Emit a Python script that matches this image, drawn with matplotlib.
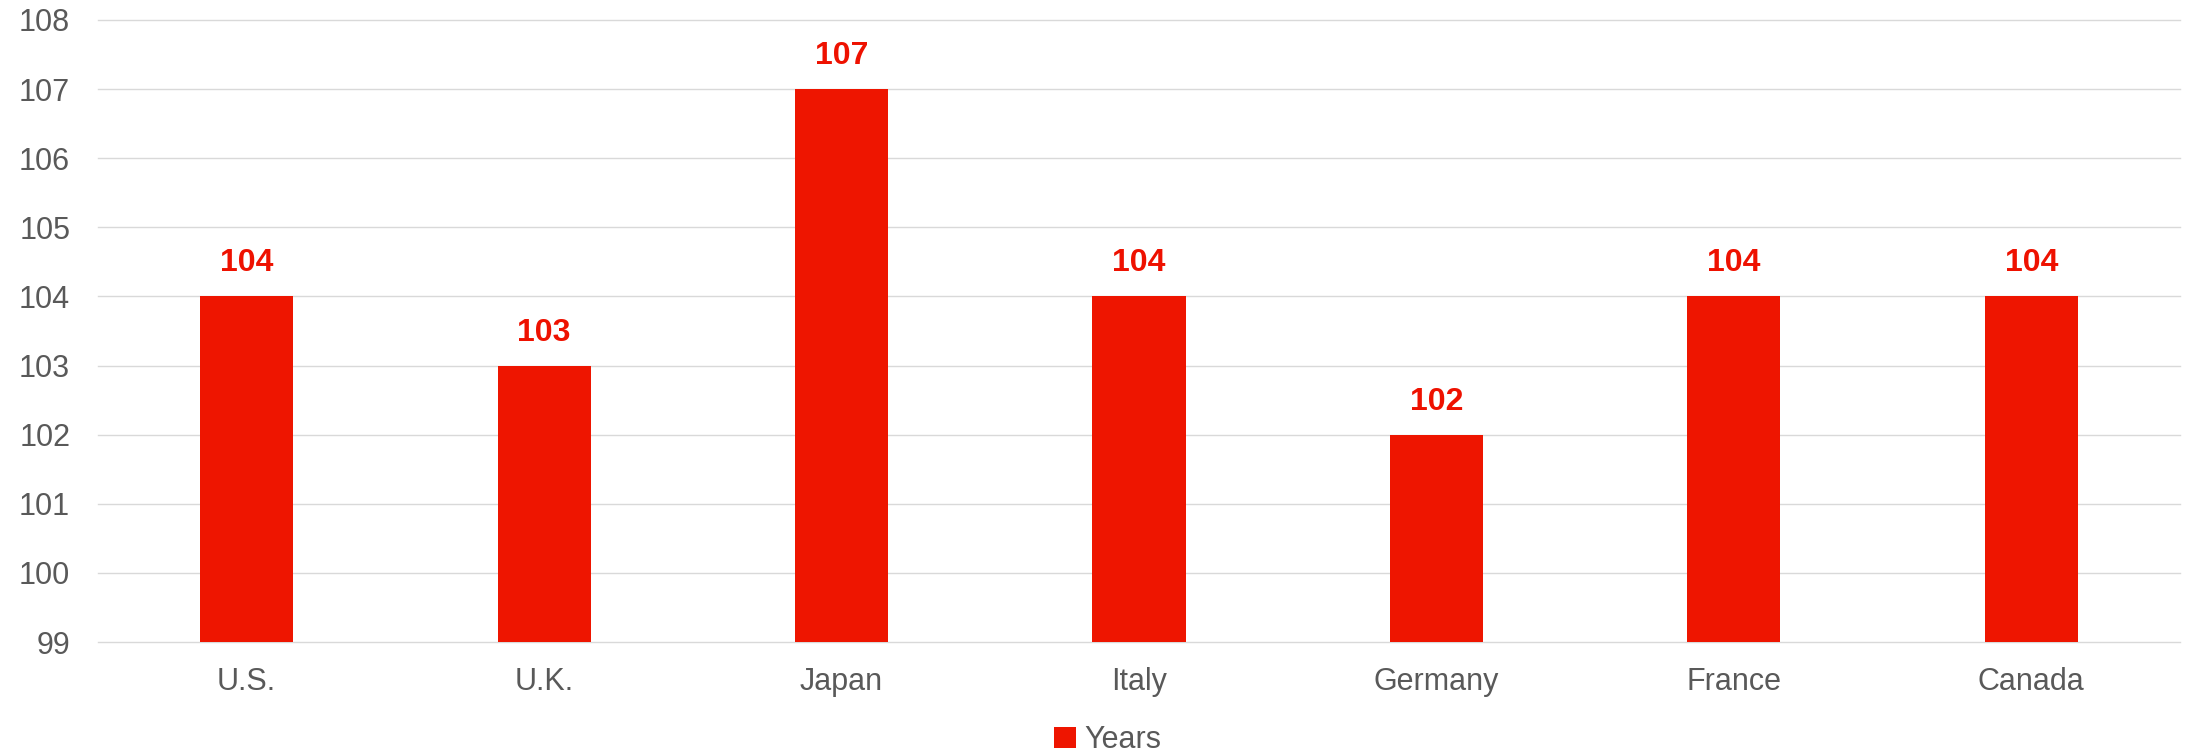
import matplotlib.pyplot as plt
import numpy as np

# retirement age by country
countries = ['U.S.', 'U.K.', 'Japan', 'Italy', 'Germany', 'France', 'Canada']
years = [104, 103, 107, 104, 102, 104, 104]
y_ticks = list(range(99, 109))

plt.rcParams['font.family'] = ['Liberation Sans', 'DejaVu Sans']

bar_red = '#EE1500'
text_grey = '#595959'

fig = plt.figure(figsize=(21.86, 7.54), dpi=100)
ax = fig.add_axes([0.0448, 0.1485, 0.9525, 0.825])

x = np.arange(len(countries))
bars = ax.bar(x, [v - 99 for v in years], bottom=99, width=0.313,
              color=bar_red, label='Years', zorder=3)

for xi, v in zip(x, years):
    ax.annotate(str(v), (xi, v), xytext=(0, 13), textcoords='offset points',
                ha='center', va='bottom', fontsize=23, fontweight='bold',
                color='#EE1100')

ax.set_xlim(-0.5, len(countries) - 0.5)
ax.set_ylim(99, 108)
ax.set_yticks(y_ticks)
ax.set_xticks(x)
ax.set_xticklabels(countries)
ax.tick_params(axis='y', length=0, pad=20, labelsize=22, labelcolor=text_grey)
ax.tick_params(axis='x', length=0, pad=18, labelsize=22, labelcolor=text_grey)
ax.grid(axis='y', color='#D9D9D9', linewidth=1.0, zorder=0)
# keep the top and bottom gridlines whole at the axis edges
for gl in ax.get_ygridlines():
    gl.set_clip_on(False)
for s in ax.spines.values():
    s.set_visible(False)

fig.legend(handles=[bars], labels=['Years'], loc='center',
           bbox_to_anchor=(1108 / 2186, 1 - 740 / 754), frameon=False,
           fontsize=22, labelcolor=text_grey, handlelength=0.7,
           handleheight=0.7, handletextpad=0.3)

fig.savefig('out.png', dpi=100)
